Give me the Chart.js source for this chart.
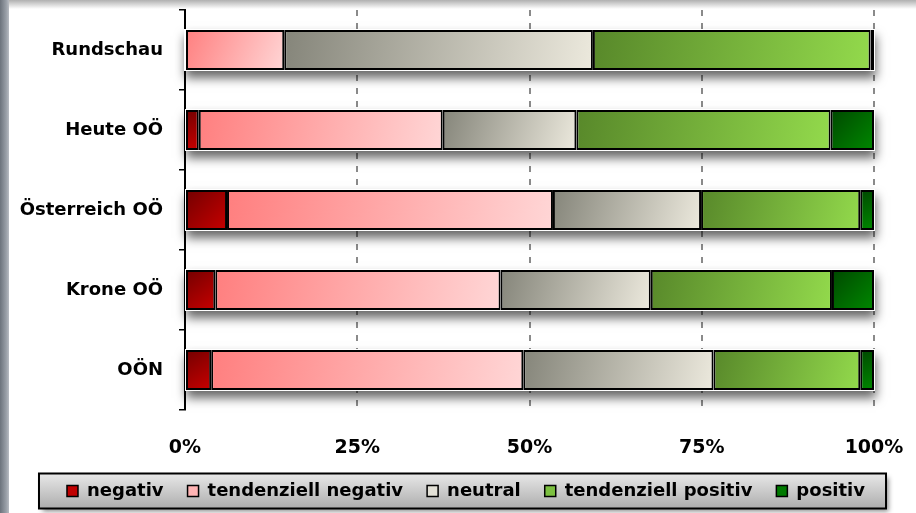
<!DOCTYPE html>
<html>
<head>
<meta charset="utf-8">
<script src="https://cdn.jsdelivr.net/npm/chart.js@4/dist/chart.umd.min.js"></script>
<style>
    html, body { margin: 0; padding: 0; background: #fff; }
    body { width: 916px; height: 513px; position: relative; overflow: hidden; }
    .edge-left { position: absolute; left: 0; top: 0; width: 9px; height: 513px;
        background: linear-gradient(to right, #6c737c, #9aa0a8 70%, #b8bcc2); }
    .edge-top { position: absolute; left: 9px; top: 0; width: 907px; height: 9px;
        background: linear-gradient(to bottom, rgba(80,80,80,0.45), rgba(255,255,255,0)); }
    canvas { position: absolute; left: 0; top: 0; }
</style>
</head>
<body>
<div class="edge-left"></div>
<div class="edge-top"></div>
<canvas id="chart" width="916" height="513"></canvas>
<script>
// Chart data (share of coverage in %)
const categories = ['Rundschau', 'Heute OÖ', 'Österreich OÖ', 'Krone OÖ', 'OÖN'];
const seriesNames = ['negativ', 'tendenziell negativ', 'neutral', 'tendenziell positiv', 'positiv'];
const negativ = [0, 2.0, 6.1, 4.4, 3.8];
const tendNegativ = [14.4, 35.4, 47.3, 41.4, 45.3];
const neutral = [44.8, 19.4, 21.5, 21.8, 27.6];
const tendPositiv = [40.3, 36.9, 23.1, 26.3, 21.3];
const positiv = [0.5, 6.3, 2.0, 6.1, 2.0];
const xTicks = [0, 25, 50, 75, 100];

const seriesList = [negativ, tendNegativ, neutral, tendPositiv, positiv];

// gradient stops per series (dark top-left -> light bottom-right)
const gradStops = [
    ['#720000', '#c80000'],
    ['#ff7f7f', '#ffd6d6'],
    ['#85857a', '#ece9dd'],
    ['#58882a', '#93da4c'],
    ['#004800', '#008800']
];
const legendColors = ['#c00000', '#ffb4b4', '#e2e0d6', '#7cc040', '#007a00'];

Chart.defaults.font.family = "'DejaVu Sans', Verdana, sans-serif";
Chart.defaults.font.weight = 'bold';
Chart.defaults.color = '#000';

// Fill each segment with a diagonal gradient, placed through the scales
function segmentFill(ds) {
    return (ctx) => {
        if (ctx.type !== 'data') return legendColors[ds];
        const chart = ctx.chart;
        const xs = chart.scales.x, ys = chart.scales.y;
        if (!xs || !ys) return legendColors[ds];
        const i = ctx.dataIndex;
        let start = 0;
        for (let k = 0; k < ds; k++) start += seriesList[k][i];
        const end = start + seriesList[ds][i];
        const x0 = xs.getPixelForValue(start);
        const x1 = xs.getPixelForValue(end);
        const yc = ys.getPixelForValue(i);
        const half = Math.abs(ys.getPixelForValue(1) - ys.getPixelForValue(0)) * 0.25;
        const g = chart.ctx.createLinearGradient(x0, yc - half, x1, yc + half);
        g.addColorStop(0, gradStops[ds][0]);
        g.addColorStop(1, gradStops[ds][1]);
        return g;
    };
}

// Grey box behind the legend and soft shadow under the bars
const decoPlugin = {
    id: 'deco',
    beforeDraw(chart) {
        const lg = chart.legend;
        if (!lg || !lg.legendHitBoxes || !lg.legendHitBoxes.length) return;
        const boxes = lg.legendHitBoxes;
        const left = Math.min(...boxes.map(b => b.left)) - 28;
        const right = Math.max(...boxes.map(b => b.left + b.width)) + 21;
        const cy = boxes[0].top + boxes[0].height / 2;
        const top = cy - 17.5, h = 35;
        const c = chart.ctx;
        c.save();
        c.shadowColor = 'rgba(0,0,0,0.45)';
        c.shadowBlur = 5;
        c.shadowOffsetX = 3;
        c.shadowOffsetY = 3;
        const g = c.createLinearGradient(0, top, 0, top + h);
        g.addColorStop(0, '#e8e8e8');
        g.addColorStop(1, '#adadad');
        c.fillStyle = g;
        c.fillRect(left, top, right - left, h);
        c.restore();
        c.save();
        c.lineWidth = 2;
        c.strokeStyle = '#000';
        c.strokeRect(left, top, right - left, h);
        c.restore();
    },
    beforeDatasetsDraw(chart) {
        // one shadow per stacked bar, taken from the bar elements
        const c = chart.ctx;
        const metas = chart.getSortedVisibleDatasetMetas();
        c.save();
        c.shadowColor = 'rgba(0,0,0,0.6)';
        c.shadowBlur = 10;
        c.shadowOffsetX = 1;
        c.shadowOffsetY = 7;
        c.fillStyle = '#fff';
        categories.forEach((cat, i) => {
            let lo = Infinity, hi = -Infinity, y = 0, h = 0;
            metas.forEach(m => {
                const el = m.data[i];
                if (!el) return;
                lo = Math.min(lo, el.x, el.base);
                hi = Math.max(hi, el.x, el.base);
                y = el.y; h = el.height;
            });
            if (hi > lo) c.fillRect(lo - 1, y - h / 2 - 1, hi - lo + 2, h + 2);
        });
        c.restore();
    }
};

const datasets = seriesList.map((vals, ds) => ({
    label: seriesNames[ds],
    data: vals,
    backgroundColor: segmentFill(ds),
    borderColor: '#000',
    borderWidth: 2,
    borderSkipped: false,
    barPercentage: 0.5,
    categoryPercentage: 1
}));

new Chart(document.getElementById('chart'), {
    type: 'bar',
    data: { labels: categories, datasets: datasets },
    plugins: [decoPlugin],
    options: {
        indexAxis: 'y',
        responsive: false,
        animation: false,
        layout: { padding: { left: 16, right: 0, top: 10, bottom: 3 } },
        scales: {
            x: {
                stacked: true,
                min: 0,
                max: 100,
                afterBuildTicks: (scale) => { scale.ticks = xTicks.map(v => ({ value: v })); },
                afterFit: (scale) => {
                    scale.paddingRight = 42;
                    scale.paddingLeft = 0;
                    scale.height = 48;
                },
                ticks: {
                    font: { size: 19, weight: 'bold' },
                    padding: 27,
                    callback: (v) => v + '%'
                },
                grid: {
                    drawTicks: false,
                    lineWidth: 2,
                    color: (ctx) => ctx.tick && ctx.tick.value === 0 ? 'rgba(0,0,0,0)' : '#8a8a8a',
                    borderDash: [6, 7]
                },
                border: { display: false, dash: [6, 7] }
            },
            y: {
                stacked: true,
                afterFit: (scale) => {
                    scale.width = 185 - 16;
                    scale.paddingTop = 0;
                    scale.paddingBottom = 0;
                },
                ticks: {
                    font: { size: 18, weight: 'bold' },
                    padding: 16
                },
                grid: {
                    drawOnChartArea: false,
                    drawTicks: true,
                    tickLength: 6,
                    color: '#000',
                    lineWidth: 1.5
                },
                border: { display: true, color: '#000', width: 2 }
            }
        },
        plugins: {
            tooltip: { enabled: false },
            legend: {
                position: 'bottom',
                labels: {
                    font: { size: 18, weight: 'bold' },
                    boxWidth: 11,
                    boxHeight: 11,
                    padding: 24,
                    generateLabels: () => seriesNames.map((name, i) => ({
                        text: name,
                        fillStyle: legendColors[i],
                        strokeStyle: '#000',
                        lineWidth: 1.5,
                        hidden: false,
                        datasetIndex: i
                    }))
                }
            }
        }
    }
});
</script>
</body>
</html>
